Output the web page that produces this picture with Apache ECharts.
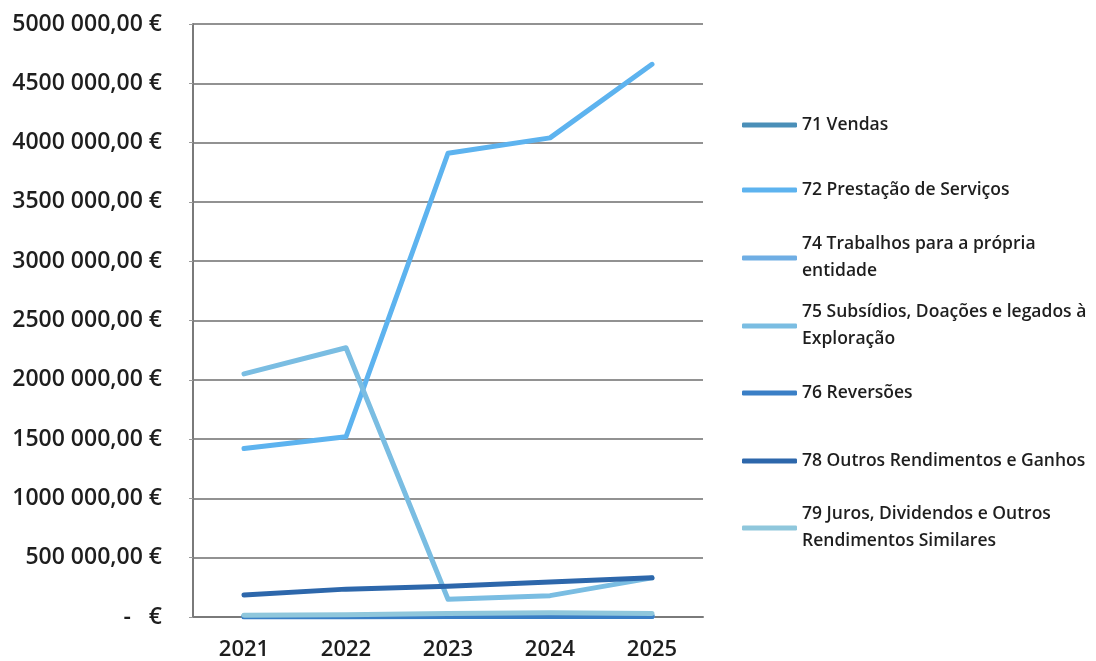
<!DOCTYPE html>
<html>
<head>
<meta charset="utf-8">
<script src="https://cdn.jsdelivr.net/npm/echarts@6/dist/echarts.min.js"></script>
<style>
  html, body { margin: 0; padding: 0; background: #ffffff; }
  #chart { width: 1096px; height: 661px; }
</style>
</head>
<body>
<div id="chart"></div>
<script>
// Years on the horizontal axis
const years = ['2021', '2022', '2023', '2024', '2025'];

// Income accounts (€), one array per account
const vendas71 = [10000, 12000, 15000, 15000, 15000];
const prestacaoServicos72 = [1420000, 1520000, 3910000, 4040000, 4660000];
const trabalhosPropriaEntidade74 = [5000, 5000, 5000, 5000, 5000];
const subsidiosExploracao75 = [2050000, 2270000, 150000, 180000, 330000];
const reversoes76 = [0, 0, 5000, 5000, 5000];
const outrosRendimentos78 = [185000, 235000, 260000, 295000, 330000];
const jurosDividendos79 = [15000, 20000, 30000, 35000, 30000];

// Legend names (line breaks where the legend wraps)
const seriesNames = [
  '71 Vendas',
  '72 Prestação de Serviços',
  '74 Trabalhos para a própria\nentidade',
  '75 Subsídios, Doações e legados à\nExploração',
  '76 Reversões',
  '78 Outros Rendimentos e Ganhos',
  '79 Juros, Dividendos e Outros\nRendimentos Similares'
];
const seriesValues = [
  vendas71, prestacaoServicos72, trabalhosPropriaEntidade74,
  subsidiosExploracao75, reversoes76, outrosRendimentos78, jurosDividendos79
];
const seriesColors = ['#4a8fb8', '#5db3ef', '#6faee4', '#7abde2', '#3a7fc6', '#2d67ab', '#8fc7dc'];

// Legend row positions (centre of the coloured line)
const legendIconY = [125, 190, 258, 326, 393, 461, 528];

const FONT = '"Open Sans", "Noto Sans", sans-serif';
const LINE_H = 27;

function euro(v) {
  if (v === 0) return '-   €';
  const thousands = Math.floor(v / 1000);
  const rest = String(v % 1000).padStart(3, '0');
  return thousands + ' ' + rest + ',00 €';
}

// One legend block per account so each row sits at its own height;
// wrapped names get a top padding so the line swatch lines up with the first row.
const legends = seriesNames.map((name, i) => {
  const twoLines = name.indexOf('\n') >= 0;
  const iconOffset = twoLines ? LINE_H * 1.5 : LINE_H / 2;
  return {
    data: [{ name: name, icon: 'roundRect' }],
    orient: 'vertical',
    left: 742,
    top: legendIconY[i] - iconOffset,
    padding: 0,
    itemWidth: 55,
    itemHeight: 5,
    itemGap: 0,
    selectedMode: false,
    textStyle: {
      fontFamily: FONT,
      fontSize: 17.5,
      fontWeight: 600,
      color: '#1e1e1e',
      lineHeight: LINE_H,
      padding: twoLines ? [LINE_H, 0, 0, 0] : 0
    }
  };
});

const series = seriesNames.map((name, i) => ({
  name: name,
  type: 'line',
  data: seriesValues[i],
  symbol: 'none',
  showSymbol: false,
  color: seriesColors[i],
  lineStyle: { width: 5, color: seriesColors[i], cap: 'round', join: 'round' },
  emphasis: { disabled: true }
}));

const chart = echarts.init(document.getElementById('chart'), null, { renderer: 'canvas' });
chart.setOption({
  animation: false,
  backgroundColor: '#ffffff',
  grid: { left: 193, top: 24, width: 510, bottom: 42, containLabel: false },
  legend: legends,
  xAxis: {
    type: 'category',
    data: years,
    boundaryGap: true,
    axisLine: { show: true, lineStyle: { color: '#7a7a7a', width: 2 } },
    axisTick: { show: false },
    axisLabel: {
      fontFamily: FONT, fontSize: 22, fontWeight: 600, color: '#1e1e1e', margin: 22
    },
    splitLine: { show: false }
  },
  yAxis: {
    type: 'value',
    min: 0,
    max: 5000000,
    interval: 500000,
    axisLine: { show: true, lineStyle: { color: '#7a7a7a', width: 2 } },
    axisTick: { show: true, length: 4, lineStyle: { color: '#9a9a9a', width: 1 } },
    axisLabel: {
      fontFamily: FONT, fontSize: 23, fontWeight: 600, color: '#1e1e1e', margin: 31,
      formatter: euro
    },
    splitLine: { show: true, lineStyle: { color: '#6e6e6e', width: 1.5 } }
  },
  series: series
});
</script>
</body>
</html>
